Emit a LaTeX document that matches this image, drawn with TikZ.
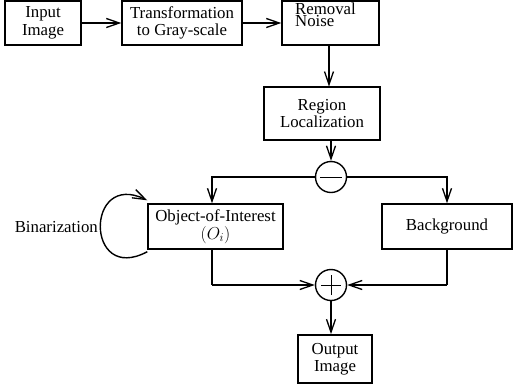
\documentclass[tikz,border=0pt]{standalone}
\usepackage{fontspec}
\setmainfont{Liberation Serif}
\usetikzlibrary{arrows.meta}
\begin{document}
\begin{tikzpicture}[x=1pt,y=-1pt,
  every node/.style={font=\fontsize{16.8}{17.5}\selectfont},
  blk/.style={draw,line width=1.4pt,rectangle,inner sep=0pt,align=center},
  opc/.style={draw,line width=1.4pt,circle,minimum size=31pt,inner sep=0pt},
  conn/.style={line width=1.4pt,-{Straight Barb[length=13pt,width=9pt,line width=1.3pt]}},
  ln/.style={line width=1.4pt}]
\useasboundingbox (0,0) rectangle (513,389);
\node[blk,line width=2pt,minimum width=76pt,minimum height=44pt] (in) at (43,23) {Input\\Image};
\node[blk,minimum width=120pt,minimum height=44pt] (tr) at (182,23) {Transformation\\to Gray-scale};
\node[blk,minimum width=97pt,minimum height=44pt] (rn) at (330.5,23) {};
\node[font=\fontsize{16.8}{12}\selectfont,align=left,anchor=north west,inner sep=0pt] (rnt) at (295,3) {Removal\\Noise};
\node[blk,line width=1.7pt,minimum width=116pt,minimum height=53pt] (rl) at (322,113.5) {Region\\Localization};
\node[opc] (mi) at (331,177) {};
\draw[line width=1pt] ([xshift=-11pt]mi.center) -- ([xshift=11pt]mi.center);
\node[blk,minimum width=135pt,minimum height=45pt] (oi) at (215.5,226.5) {Object-of-Interest\\$(O_i)$};
\node[blk,minimum width=130pt,minimum height=45pt] (bg) at (447,226.5) {Background};
\node[opc] (pl) at (331,285) {};
\draw[line width=1pt] ([xshift=-10pt]pl.center) -- ([xshift=10pt]pl.center)
  ([yshift=-10pt]pl.center) -- ([yshift=10pt]pl.center);
\node[blk,line width=1.7pt,minimum width=74pt,minimum height=48pt] (out) at (335,359) {Output\\Image};
\node[anchor=east,inner sep=0pt] (bin) at (98,227) {Binarization};
\coordinate (lb) at (212,177);
\coordinate (rb) at (447,177);
\coordinate (lp) at (212,285);
\coordinate (rp) at (447,285);
\draw[conn] (in) -- (tr);
\draw[conn] (tr) -- (rn);
\draw[conn] (329,45) -- (329,86.5);
\draw[conn] (331,140) -- (mi.north);
\draw[conn] (mi.west) -- (lb) -- (lb |- oi.north);
\draw[conn] (mi.east) -- (rb) -- (rb |- bg.north);
\draw[ln] (lb |- oi.south) -- (lp);
\draw[conn] (lp) -- (pl.west);
\draw[ln] (rb |- bg.south) -- (rp);
\draw[conn] (rp) -- (pl.east);
\draw[conn] (pl.south) -- (pl.south |- out.north);
\draw[conn] ([yshift=-2pt]oi.south west) .. controls (85,285) and (85,170) .. ([yshift=3pt]oi.north west);
\end{tikzpicture}
\end{document}
